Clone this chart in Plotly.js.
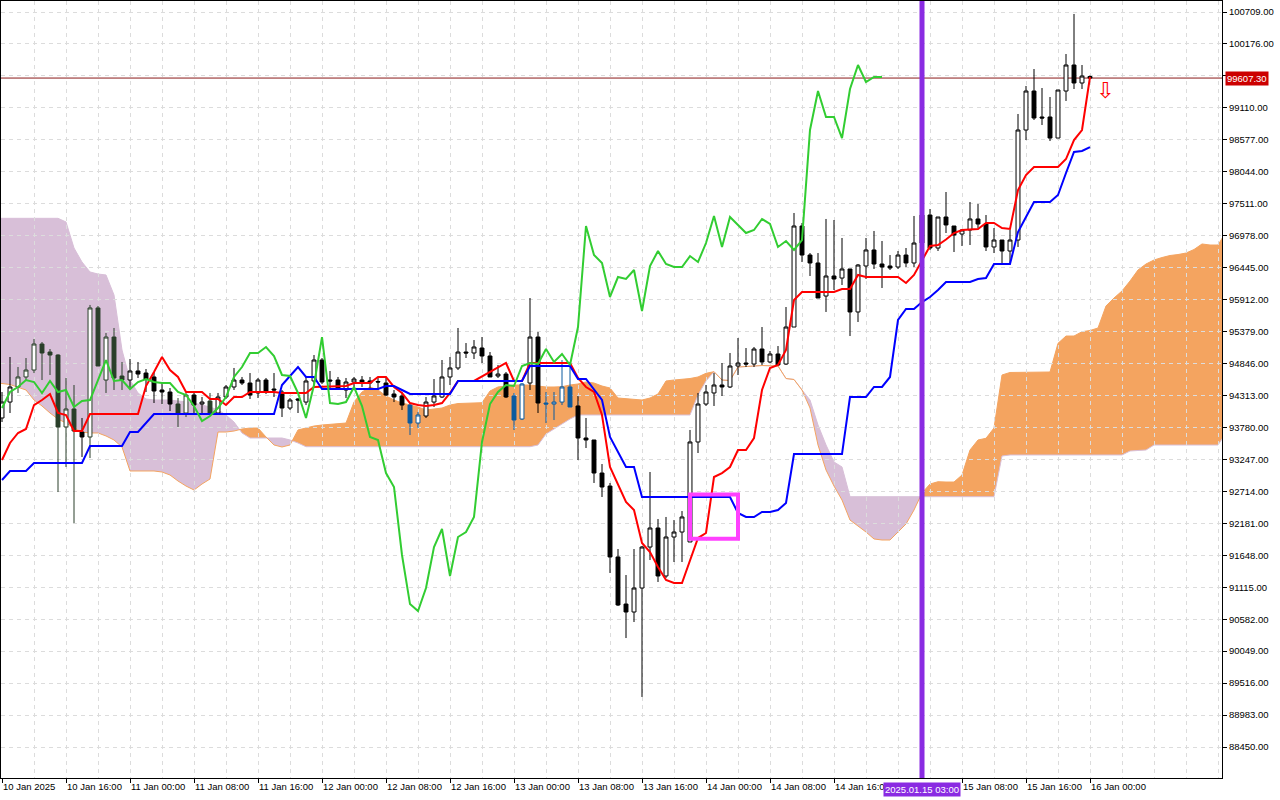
<!DOCTYPE html>
<html><head><meta charset="utf-8">
<script src="https://cdn.plot.ly/plotly-3.0.1.min.js"></script>
<style>html,body{margin:0;padding:0;background:#fff;}#chart{width:1280px;height:800px;}</style>
</head><body><div id="chart"></div>
<script>
// ---------- DATA (H1 bars, index 0 = 10 Jan 2025 08:00) ----------
const barOpen = [93938,94204,94455,94622,94738,95172,95038,94988,93788,94088,
 93704,93621,95773,94571,95288,94638,94571,94722,94688,94622,
 94405,94371,94171,94021,94321,94171,94221,94021,94288,94455,
 94571,94521,94355,94571,94421,94371,94104,94255,94204,94555,
 94905,94571,94571,94405,94538,94571,94555,94547,94521,94338,
 94305,94154,93854,93971,94204,94288,94622,94772,95038,95022,
 95105,94972,94638,94671,94305,93921,94521,95288,94188,94171,
 94204,94455,94138,93604,93571,93020,92803,91620,90835,90702,
 91102,91786,92103,91303,91953,92036,91870,93538,94171,94355,
 94488,94455,94805,94855,94838,95088,94872,95005,94838,95455,
 97140,96656,96523,95972,96306,96272,96423,95706,96473,96740,
 96506,96473,96456,96656,96523,96856,97323,96773,97290,97140,
 97006,97073,97257,97173,96790,96906,96723,96906,98741,99391,
 98958,98958,98607,99391,99825,99525,99633];
const barHigh = [94371,94955,94788,94938,95255,95205,95088,95000,94605,94488,
 93938,95823,95806,95355,95439,94872,94922,94872,94755,94705,
 94538,94438,94271,94355,94371,94288,94355,94355,94488,94772,
 94622,94688,94605,94605,94688,94405,94271,94271,94622,94988,
 94938,94722,94622,94605,94622,94638,94622,94605,94605,94405,
 94371,94188,94038,94288,94588,94905,94955,95439,95188,95238,
 95288,95038,94822,94705,94355,94521,95939,95372,94371,94371,
 94905,94872,94305,93938,93571,93170,92854,91753,91319,91753,
 91803,93037,92253,92287,92236,92386,93738,94355,94488,94688,
 94855,95022,95272,95105,95122,95455,95055,95138,95789,97357,
 97190,96689,96689,97257,97240,96940,96423,96506,96940,97057,
 96890,96656,96723,96773,97307,97440,97423,97290,97707,97140,
 97090,97540,97507,97323,97106,96906,97073,99008,99475,99758,
 99441,99291,99408,100008,100676,99825,99650];
const barLow = [93871,94021,94355,94571,94688,94571,94655,92703,93120,92186,
 93287,93270,94805,94355,94405,94405,94421,94605,94371,94188,
 94171,94054,93788,93954,94021,94021,93988,94005,94255,94405,
 94488,94255,94271,94338,94288,93954,94071,94021,94154,94455,
 94505,94405,94405,94271,94455,94455,94421,94405,94305,94204,
 94071,93654,93771,93938,94121,94271,94488,94738,94938,94922,
 94855,94622,94605,94271,93738,93904,94405,94021,93854,93904,
 94154,94121,93237,93437,92854,92620,91353,90802,90268,90535,
 89285,91569,91203,91269,91536,91536,91870,93354,94138,94138,
 94305,94438,94655,94788,94788,94822,94855,94805,94822,95455,
 96539,96306,95939,95706,96072,96156,95305,95539,96256,96423,
 96106,96406,96423,96456,96456,96740,96740,96723,97023,96706,
 96806,96823,97106,96723,96689,96523,96523,96790,98574,98908,
 98824,98557,98607,99225,99425,99425,99600];
const barClose = [94204,94455,94622,94738,95172,95022,94988,93788,94088,93721,
 93621,95773,94805,95288,94605,94571,94722,94671,94588,94388,
 94371,94171,94021,94321,94154,94204,94021,94288,94455,94571,
 94521,94321,94571,94371,94405,94104,94238,94238,94555,94905,
 94538,94555,94438,94538,94588,94538,94521,94538,94321,94288,
 94154,93854,93988,94204,94305,94622,94772,95038,95022,95122,
 94972,94622,94671,94288,93904,94505,95288,94188,94171,94204,
 94455,94121,93604,93571,93020,92787,91620,90819,90702,91102,
 91786,92103,91303,91953,92036,92287,93538,94171,94371,94488,
 94455,94805,94855,94838,95088,94872,95005,94822,95455,97140,
 96656,96523,95939,96306,96256,96423,95706,96489,96740,96506,
 96456,96439,96656,96523,96856,97323,96773,97290,97157,96990,
 97073,97257,97173,96790,96906,96723,96906,98741,99391,98941,
 98941,98607,99408,99825,99525,99641,99607.3];

// Tenkan-sen (red) vertices: bar index / price
const tenkanIdx = [0,1,2,3,4,5,6,7,8,9,10,11,17,18,19,20,21,22,23,25,26,27,28,29,30,31,34,35,38,39,43,44,
 46,47,48,49,50,51,52,53,54,55,56,57,59,61,63,64,65,66,
 71,72,73,74,75,76,77,78,79,80,81,82,83,84,85,86,87,88,89,90,91,92,93,94,95,96,97,98,99,100,
 104,105,106,107,108,112,113,114,115,116,117,118,119,120,122,123,124,125,126,127,128,129,132,133,134,135,136];
const tenkan = [93237,93521,93688,93754,94154,94238,94338,94021,93988,93721,93721,94004,
 94004,94471,94705,94955,94738,94622,94371,
 94371,94255,94255,94154,94288,94288,94371,
 94371,94355, 94355,94455, 94471,94521,
 94521,94622,94622,94455,94355,94188,94154,94138,94154,94188,94355,94555,
 94555, 94705, 94855,94555,94555,94855,
 94855,94605,94455,94371,93988,93120,92820,92537,92403,91853,91703,91453,91236,91186,91186,
 91569,91936,92020,92954,93020,93120,93404,93404,93604,94405,94772,94822,95072,95906,96039,
 96039,96089,96089,96323,96289,
 96289,96189,96323,96573,96806,96823,96915,97023,97073,
 97090,97190,97190,97106,97090,97740,97990,98124,
 98124,98257,98574,98741,99625];

// Kijun-sen (blue) vertices
const kijunIdx = [0,1,3,4,10,11,15,16,17,18,19,34,35,36,37,38,39,40,47,48,49,50,51,56,57,65,66,
 71,72,73,74,75,76,77,78,79,80,91,92,93,94,95,96,97,98,99,105,106,
 108,109,110,111,112,113,114,115,116,117,118,121,122,123,124,126,127,128,129,131,132,133,134,135,136];
const kijun = [92904,93054,93054,93187,93187,93471,93471,93704,93704,93854,94004,
 94004,94488,94638,94788,94622,94622,94421,
 94421,94471,94471,94405,94338, 94338,94555, 94555,94805,
 94805,94588,94588,94405,94238,93621,93371,93120,93120,92620,
 92620,92353,92287,92287,92370,92370,92403,92520,93337,
 93337,94288,
 94288,94455,94455,94622,95572,95756,95756,95872,95956,96072,96206,
 96206,96256,96273,96506,
 96506,97040,97290,97540,
 97540,97657,98024,98374,98391,98457];

// Chikou span (green), bar index 0..110
const chikou = [94104,94371,94455,94571,94538,94355,94555,94371,94405,94121,
 94221,94238,94571,94905,94555,94571,94421,94538,94588,94538,
 94521,94521,94371,94321,94138,93888,93971,94104,94288,94622,
 94788,95022,95022,95122,94972,94655,94638,94355,93938,94488,
 95288,94188,94171,94204,94455,94138,93621,93571,93020,92787,
 91653,90835,90719,91102,91786,92086,91303,91953,92036,92287,
 93538,94171,94371,94488,94471,94805,94855,94838,95088,94872,
 95005,94822,95455,97140,96656,96523,95956,96289,96256,96406,
 95722,96473,96723,96506,96456,96456,96639,96539,96856,97307,
 96790,97290,97157,97023,97073,97257,97173,96790,96890,96740,
 96906,98741,99391,98958,98958,98607,99425,99825,99541,99625,
 99625];

// Senkou spans (cloud), shifted 26 bars forward
const cloudIdx = [-1,0,1,3,4,5,6,7,8,9,10,11,12,13,14,15,16,17,18,19,20,21,22,23,24,25,26,27,28,29,30,31,32,33,34,35,36,37,38,39,40,
 43,44,45,46,47,48,49,50,52,53,55,56,57,60,61,62,63,64,66,67,68,69,70,71,72,73,74,75,76,77,80,81,82,83,84,86,87,88,89,90,91,92,95,97,98,99,100,
 101,102,103,104,105,106,107,108,109,110,111,112,113,114,115,116,117,118,119,120,121,122,123,124,125,126,131,132,133,134,135,136,137,138,139,140,
 141,142,143,144,145,146,147,148,149,150,151,152,153];
const spanA = [94530,94513,94496,94405,94238,94138,94021,93921,93854,93771,93704,93688,93688,93638,93571,93454,93054,93054,93054,93054,93037,92987,92887,92803,92737,92837,92920,93704,93704,93721,93754,93771,93771,93621,93488,93454,93488,93738,93771,93804,93821,
 93854,94204,94371,94455,94405,94305,94238,94188,94121,94071,94104,94154,94179,94193,94388,94455,94471,94488,94488,94471,94455,94455,94460,94488,94505,94538,94521,94471,94438,94271,94238,94271,94338,94555,94571,94596,94622,94683,94710,94571,94563,94788,94813,94805,94596,94580,94405,
 94104,93488,93071,92803,92570,92236,92136,92036,91920,91903,91903,92036,92170,92403,92687,92837,92875,92870,92870,92987,93404,93571,93599,93771,94655,94697,94705,95183,95305,95305,95377,95397,95439,95806,95939,96056,
 96222,96406,96506,96573,96614,96648,96664,96689,96748,96840,96823,96823,97040];
const spanB = [97268,97268,97268,97268,97268,97268,97268,97268,97207,96773,96539,96373,96339,96323,95989,95072,94571,94355,94255,94238,94238,94238,94221,94209,94188,94154,94121,94071,93988,93871,93688,93604,93604,93604,93604,93604,93571,93521,93459,93459,93459,
 93459,93459,93459,93459,93459,93459,93459,93459,93459,93459,93459,93459,93459,93459,93459,93459,93459,93459,93459,93487,93671,93754,93838,93921,93988,93988,93988,93988,93988,93988,93988,93988,93988,93988,93988,93988,94321,94555,94710,94571,94563,94788,94813,94805,94596,94580,94405,
 94238,93821,93488,93204,93121,92625,92625,92625,92625,92625,92625,92625,92625,92625,92625,92625,92625,92625,92625,92625,92625,92625,92625,92625,93304,93321,93321,93321,93321,93321,93321,93321,93321,93321,93321,93321,
 93387,93396,93404,93487,93487,93487,93487,93487,93487,93487,93487,93487,93688];

// Axis ticks
const xTickIdx = [0,8,16,24,32,40,48,56,64,72,80,88,96,104,120,128,136];
const xTickText = ['10 Jan 2025','10 Jan 16:00','11 Jan 00:00','11 Jan 08:00','11 Jan 16:00','12 Jan 00:00','12 Jan 08:00','12 Jan 16:00','13 Jan 00:00','13 Jan 08:00','13 Jan 16:00','14 Jan 00:00','14 Jan 08:00','14 Jan 16:00','15 Jan 08:00','15 Jan 16:00','16 Jan 00:00'];
const yTicks = [88450,88983,89516,90049,90582,91115,91648,92181,92714,93247,93780,94313,94846,95379,95912,96445,96978,97511,98044,98577,99110,99643,100176,100709];
const markedBarIdx = 115;          // 2025.01.15 03:00
const markedBarLabel = '2025.01.15 03:00';
const boxBars = [86, 92];           // highlighted rectangle (bars)
const boxPrices = [91923, 92662];   // highlighted rectangle (prices)
const arrowBar = 137.9, arrowPrice = 99400;

// ---------- BUILD ----------
const FONT = 'Liberation Sans, Arial, sans-serif';
const ORANGE = '#f4a460', THISTLE = '#d8bfd8';
const IN_ORANGE = '#0b5b9f', IN_THISTLE = '#2a3f2a';
const n = Math.min(barOpen.length, barHigh.length, barLow.length, barClose.length);
const lastClose = barClose[n - 1];
const cm = Math.min(cloudIdx.length, spanA.length, spanB.length);

function pairs(a, b){ const m = Math.min(a.length, b.length); return {x:a.slice(0,m), y:b.slice(0,m)}; }
const tk = pairs(tenkanIdx, tenkan), kj = pairs(kijunIdx, kijun);
const chX = chikou.map((_, i) => i);

// cloud value at a bar position (for candle tinting only)
function cloudAt(x){
  for (let k = 1; k < cm; k++) {
    if (cloudIdx[k] >= x) {
      const x0 = cloudIdx[k-1], x1 = cloudIdx[k], t = (x - x0) / (x1 - x0);
      return {a: spanA[k-1] + t*(spanA[k]-spanA[k-1]), b: spanB[k-1] + t*(spanB[k]-spanB[k-1])};
    }
  }
  return null;
}

// candle groups by what they sit on (MetaTrader draws them inverted over the cloud)
const groups = {black:{color:'#000000'}, orange:{color:IN_ORANGE}, thistle:{color:IN_THISTLE}};
Object.values(groups).forEach(g => { g.x=[]; g.o=[]; g.h=[]; g.l=[]; g.c=[]; });
for (let i = 0; i < n; i++) {
  const mid = (barOpen[i] + barClose[i]) / 2;
  const cl = cloudAt(i);
  let g = groups.black;
  if (cl) {
    const top = Math.max(cl.a, cl.b), bot = Math.min(cl.a, cl.b);
    if (mid <= top && mid >= bot && top - bot > 30) g = cl.a >= cl.b ? groups.orange : groups.thistle;
  }
  g.x.push(i); g.o.push(barOpen[i]); g.h.push(barHigh[i]); g.l.push(barLow[i]); g.c.push(barClose[i]);
}

// cloud polygons (orange where A >= B, thistle where B > A)
const shapes = [];
(function(){
  let sx = [], sa = [], sb = [], up = null;
  function flush(){
    if (sx.length < 2) return;
    let d = 'M' + sx[0] + ',' + sa[0];
    for (let k = 1; k < sx.length; k++) d += ' L' + sx[k] + ',' + sa[k];
    for (let k = sx.length - 1; k >= 0; k--) d += ' L' + sx[k] + ',' + sb[k];
    d += ' Z';
    shapes.push({type:'path', xref:'x', yref:'y', path:d, fillcolor: up ? ORANGE : THISTLE, line:{width:0}, layer:'below'});
  }
  for (let k = 0; k < cm; k++) {
    const x = cloudIdx[k], a = spanA[k], b = spanB[k], u = a >= b;
    if (up === null) up = u;
    else if (u !== up) {
      const x0 = cloudIdx[k-1], a0 = spanA[k-1], b0 = spanB[k-1];
      const d0 = a0 - b0, d1 = a - b, t = d0 / (d0 - d1);
      const xc = x0 + t * (x - x0), yc = a0 + t * (a - a0);
      sx.push(xc); sa.push(yc); sb.push(yc);
      flush();
      sx = [xc]; sa = [yc]; sb = [yc]; up = u;
    }
    sx.push(x); sa.push(a); sb.push(b);
  }
  flush();
  let pb = '', pa = '';
  for (let k = 0; k < cm; k++) { pb += (k ? ' L' : 'M') + cloudIdx[k] + ',' + spanB[k]; pa += (k ? ' L' : 'M') + cloudIdx[k] + ',' + spanA[k]; }
  shapes.push({type:'path', xref:'x', yref:'y', path:pb, line:{color:THISTLE, width:1}, layer:'below'});
  shapes.push({type:'path', xref:'x', yref:'y', path:pa, line:{color:ORANGE, width:1}, layer:'below'});
})();

shapes.push({type:'line', xref:'paper', x0:0, x1:1, yref:'y', y0:lastClose, y1:lastClose, line:{color:'#8b1a1a', width:1}, layer:'between'});
shapes.push({type:'rect', xref:'x', yref:'y', x0:boxBars[0], x1:boxBars[1], y0:boxPrices[0], y1:boxPrices[1], line:{color:'#ff40ff', width:4}, fillcolor:'rgba(0,0,0,0)', layer:'above'});
shapes.push({type:'line', xref:'x', x0:markedBarIdx, x1:markedBarIdx, yref:'paper', y0:0, y1:1, line:{color:'#8a2be2', width:5}, layer:'above'});

const traces = [];
Object.values(groups).forEach(g => {
  if (!g.x.length) return;
  traces.push({ type:'candlestick', x:g.x, open:g.o, high:g.h, low:g.l, close:g.c,
    increasing:{fillcolor:'#ffffff', line:{color:g.color, width:1}},
    decreasing:{fillcolor:g.color, line:{color:g.color, width:1}},
    whiskerwidth:0, hoverinfo:'skip', showlegend:false });
});
traces.push({ type:'scatter', mode:'lines', x:tk.x, y:tk.y, line:{color:'#ff0000', width:2}, hoverinfo:'skip', showlegend:false });
traces.push({ type:'scatter', mode:'lines', x:kj.x, y:kj.y, line:{color:'#0000ff', width:2}, hoverinfo:'skip', showlegend:false });
traces.push({ type:'scatter', mode:'lines', x:chX, y:chikou, line:{color:'#32cd32', width:2}, hoverinfo:'skip', showlegend:false });

const GRID = '#dcdcdc';
const layout = {
  width:1280, height:800,
  margin:{l:1, r:58, t:1, b:22, pad:0},
  paper_bgcolor:'#ffffff', plot_bgcolor:'rgba(0,0,0,0)',
  font:{family:FONT, size:9.5, color:'#000'},
  showlegend:false, hovermode:false, boxgap:0.3, boxmode:'overlay',
  xaxis:{
    type:'linear', range:[-0.125, 152.5], fixedrange:true,
    tickmode:'array', tickvals:xTickIdx, ticktext:xTickText,
    ticks:'outside', ticklen:4, tickcolor:'#000', ticklabelposition:'outside right',
    showgrid:true, gridcolor:GRID, griddash:'4px,4px', gridwidth:1,
    minor:{tickmode:'linear', tick0:0, dtick:4, showgrid:true, gridcolor:GRID, griddash:'4px,4px', ticklen:0},
    showline:true, linecolor:'#000', linewidth:1, mirror:true, zeroline:false,
    rangeslider:{visible:false}, tickfont:{family:FONT, size:9.5}
  },
  yaxis:{
    side:'right', range:[87933.7, 100892.5], fixedrange:true,
    tickmode:'array', tickvals:yTicks, ticktext:yTicks.map(v => Math.abs(v - lastClose) < 100 ? '' : v.toFixed(2)),
    ticks:'outside', ticklen:4, tickcolor:'#000',
    showgrid:true, gridcolor:GRID, griddash:'4px,4px', gridwidth:1,
    showline:true, linecolor:'#000', linewidth:1, mirror:true, zeroline:false,
    tickfont:{family:FONT, size:9.5}
  },
  shapes:shapes,
  annotations:[
    {xref:'paper', x:1, xanchor:'left', xshift:3, yref:'y', y:lastClose, yanchor:'middle', text:lastClose.toFixed(2), showarrow:false,
     bgcolor:'#cc0000', font:{color:'#ffffff', family:FONT, size:9.5}, borderpad:1},
    {xref:'x', x:markedBarIdx, xanchor:'center', yref:'paper', y:0, yanchor:'top', yshift:-4, text:markedBarLabel, showarrow:false,
     bgcolor:'#8a2be2', font:{color:'#ffffff', family:FONT, size:9.5}, borderpad:1},
    {xref:'x', x:arrowBar, yref:'y', y:arrowPrice, text:'\u21E9', showarrow:false, font:{color:'#ff0000', family:'DejaVu Sans', size:22}}
  ]
};

Plotly.newPlot(document.getElementById('chart'), traces, layout, {staticPlot:true, responsive:false, displayModeBar:false});
</script>
</body></html>
